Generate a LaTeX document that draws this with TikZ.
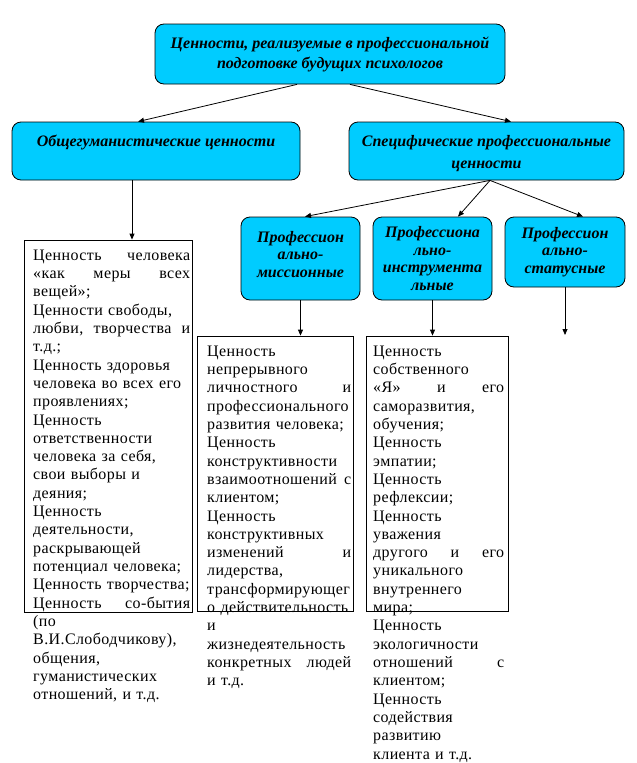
\documentclass[tikz,border=0pt]{standalone}
\usepackage{fontspec}
\setmainfont{Liberation Serif}
\newfontfamily\listfont{Liberation Serif}[LetterSpace=2.5]
\usetikzlibrary{arrows.meta}

\definecolor{boxcyan}{RGB}{0,204,255}

\tikzset{
  head/.style={draw, line width=0.8pt, fill=boxcyan, rounded corners=9pt,
    align=center, inner sep=0pt},
  headfont/.style={align=center, inner sep=0pt,
    font=\fontsize{16}{#1}\selectfont\bfseries\itshape},
  list/.style={draw, line width=0.8pt, fill=white, inner sep=0pt},
  listtext/.style={anchor=north west, inner sep=0pt, align=left,
    font=\listfont\fontsize{16}{18.33}\selectfont},
  link/.style={-{Triangle[length=6pt,width=5pt]}, line width=0.8pt}
}

\begin{document}
\begin{tikzpicture}[x=1pt, y=-1pt]
\useasboundingbox (0,0) rectangle (637,763);

% Heading boxes, top to bottom.
\node[head, minimum width=350, minimum height=60, headfont=20] (top) at (330,54)
  {Ценности, реализуемые в профессиональной\\подготовке будущих психологов};
\node[head, minimum width=288, minimum height=58,
  label={[headfont=20, yshift=9]center:Общегуманистические ценности}]
  (humane) at (156,151) {};
\node[head, minimum width=275, minimum height=58,
  label={[headfont=22, yshift=-3]center:Специфические профессиональные\\ценности}]
  (specific) at (486.5,151) {};

\node[head, minimum width=119, minimum height=83,
  label={[headfont=17.5, yshift=4]center:Профессион\\ально-\\миссионные}]
  (mission) at (300.5,258.5) {};
\node[head, minimum width=119, minimum height=83,
  label={[headfont=17.4]center:Профессиона\\льно-\\инструмента\\льные}]
  (instr) at (432.5,258.5) {};
\node[head, minimum width=120, minimum height=70,
  label={[headfont=17.5]center:Профессион\\ально-\\статусные}]
  (status) at (565,252) {};

% White list boxes; the text runs past their lower edge.
\node[list, minimum width=168, minimum height=372] (glist) at (108,426) {};
\node[list, minimum width=156, minimum height=275] (mlist) at (275,473.5) {};
\node[list, minimum width=142, minimum height=275] (ilist) at (437,473.5) {};

\node[listtext, text width=157] (gtext) at (33,247) {%
  \strut Ценность\hfill человека\\
  «как\hfill меры\hfill всех\\
  вещей»;\\
  Ценности~свободы,\\
  любви,\hfill творчества\hfill и\\
  т.д.;\\
  Ценность~здоровья\\
  человека~во~всех~его\\
  проявлениях;\\
  Ценность\\
  ответственности\\
  человека~за~себя,\\
  свои~выборы~и\\
  деяния;\\
  Ценность\\
  деятельности,\\
  раскрывающей\\
  потенциал~человека;\\
  Ценность~творчества;\\
  Ценность\hfill со-бытия\\
  (по\\
  В.И.Слободчикову),\\
  общения,\\
  гуманистических\\
  отношений,~и~т.д.};

\node[listtext, text width=144] (mtext) at (207,343) {%
  \strut Ценность\\
  непрерывного\\
  личностного\hfill и\\
  профессионального\\
  развития~человека;\\
  Ценность\\
  конструктивности\\
  взаимоотношений\hfill с\\
  клиентом;\\
  Ценность\\
  конструктивных\\
  изменений\hfill и\\
  лидерства,\\
  трансформирующег\\
  о~действительность\\
  и\\
  жизнедеятельность\\
  конкретных\hfill людей\\
  и~т.д.};

\node[listtext, text width=131] (itext) at (373,343) {%
  \strut Ценность\\
  собственного\\
  «Я»\hfill и\hfill его\\
  саморазвития,\\
  обучения;\\
  Ценность\\
  эмпатии;\\
  Ценность\\
  рефлексии;\\
  Ценность\\
  уважения\\
  другого\hfill и\hfill его\\
  уникального\\
  внутреннего\\
  мира;\\
  Ценность\\
  экологичности\\
  отношений\hfill с\\
  клиентом;\\
  Ценность\\
  содействия\\
  развитию\\
  клиента~и~т.д.};

% Connectors.
\coordinate (statusend) at (565,335);
\draw[link] ([xshift=-33]top.south) -- ([xshift=-18]humane.north);
\draw[link] ([xshift=20]top.south) -- ([xshift=24.5]specific.north);
\draw[link] ([xshift=-24]humane.south) -- ([xshift=-24]humane.south |- glist.north);
\draw[link] ([xshift=3.5]specific.south) -- ([xshift=4.5]mission.north);
\draw[link] ([xshift=3.5]specific.south) -- ([xshift=25.5]instr.north);
\draw[link] ([xshift=3.5]specific.south) -- ([xshift=18]status.north);
\draw[link] (mission.south) -- (mission.south |- mlist.north);
\draw[link] (instr.south) -- (instr.south |- ilist.north);
\draw[link] (status.south) -- (statusend);
\end{tikzpicture}
\end{document}
